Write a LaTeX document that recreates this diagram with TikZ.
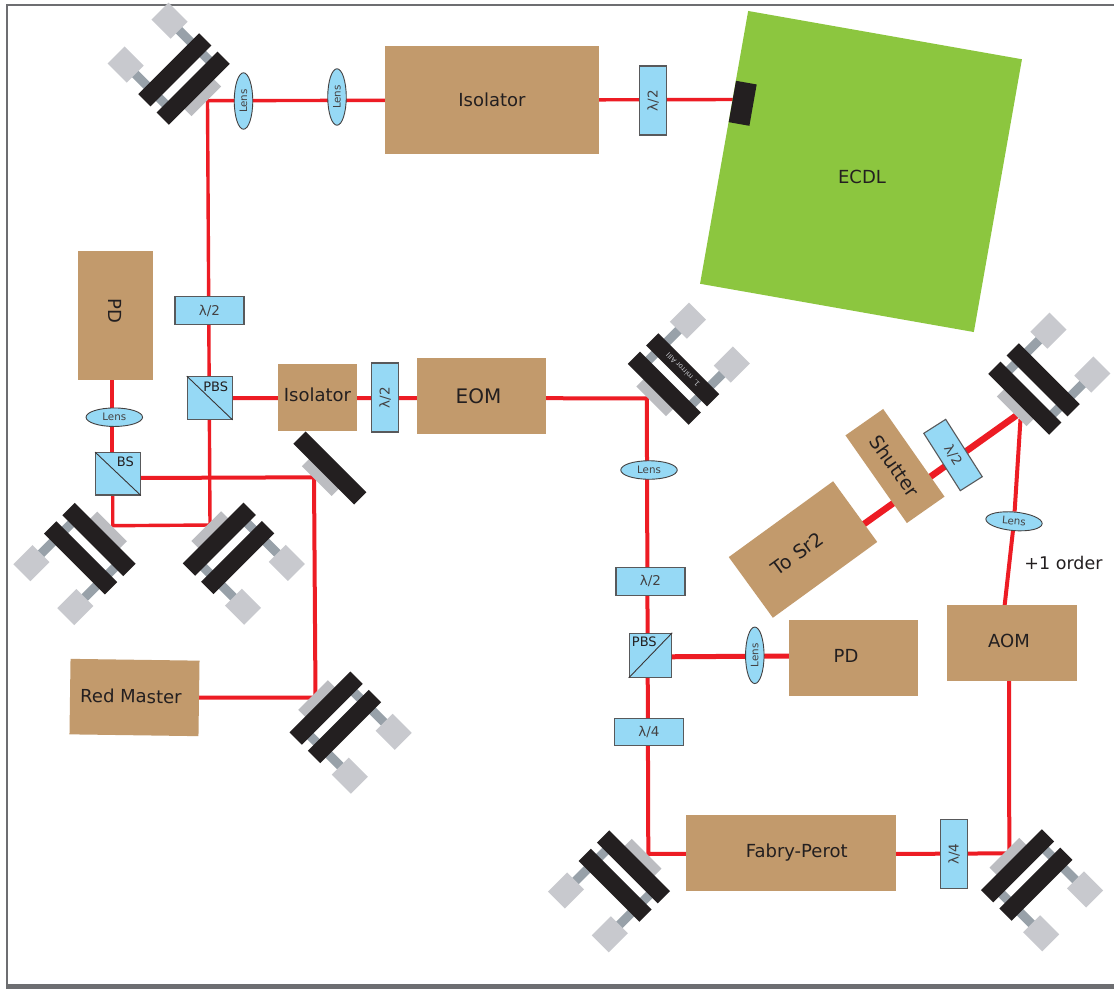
\documentclass[tikz,border=0pt]{standalone}
\usepackage{fontspec}
\setmainfont{DejaVu Sans}
\usetikzlibrary{shapes.geometric,backgrounds}
\definecolor{tanc}{HTML}{C29A6C}
\definecolor{bluec}{HTML}{96D9F5}
\definecolor{greenc}{HTML}{8CC63F}
\definecolor{redc}{HTML}{ED1C24}
\definecolor{blackc}{HTML}{231F20}
\definecolor{rodc}{HTML}{98A1A9}
\definecolor{knobc}{HTML}{C8C9CE}
\definecolor{optc}{HTML}{BCBDC1}
\definecolor{edgec}{HTML}{58595B}
\definecolor{framec}{HTML}{6D6E71}
\newcommand\fs[1]{\fontsize{#1}{#1}\selectfont}
\newcommand\off[3]{\raisebox{#2}{\hspace*{#1}\hspace*{#1}#3}}
\tikzset{
  tanbox/.style={fill=tanc,inner sep=0pt,text=blackc,font=\fs{18}},
  plainblock/.style={inner sep=0pt,text=blackc},
  wave/.style={fill=bluec,draw=edgec,line width=1.1pt,inner sep=0pt,text=blackc!85,font=\fs{13.5},minimum width=69pt,minimum height=27.5pt},
  cube/.style={rectangle,fill=bluec,draw=edgec,line width=1.1pt,inner sep=0pt,minimum width=#1},
  cubediag/.style={draw=blackc!90,line width=0.9pt},
  cubetext/.style={inner sep=0pt,text=blackc,font=\fs{13}},
  lens/.style={ellipse,fill=bluec,draw=blackc!85,line width=0.9pt,inner sep=0pt,text=blackc!85,font=\fs{10.3},minimum width=56.5pt,minimum height=18.5pt},
  beam/.style={draw=redc,line width=4pt,line join=miter},
  midbeam/.style={draw=redc,line width=5pt},
  thinbeam/.style={draw=redc,line width=3.4pt,line join=miter},
  thickbeam/.style={draw=redc,line width=6.5pt,line cap=butt},
  plainmirror/.pic={
    \fill[optc] (-21,-31.5) rectangle (21,-13);
    \fill[blackc] (-43,-21.7) rectangle (43,-4.3);
  },
  mirrorpic/.pic={
    \fill[rodc] (-35.5,-15) rectangle (-26.5,42);
    \fill[rodc] (26.5,-15) rectangle (35.5,42);
    \fill[knobc] (-43,38) rectangle (-19,65);
    \fill[knobc] (19,38) rectangle (43,65);
    \fill[optc] (-21,-31.5) rectangle (21,-13);
    \fill[blackc] (-43,-21.7) rectangle (43,-4.3);
    \fill[blackc] (-43,4.3) rectangle (43,21.7);
  },
}
\begin{document}
\begin{tikzpicture}[x=1pt,y=1pt]
\useasboundingbox (0,0) rectangle (1114,-989);
% frame
\draw[framec,line width=2pt] (1114,-5) -- (7,-5) -- (7,-986);
\fill[framec] (6,-984) rectangle (1114,-989);

% ECDL
\node[fill=greenc,inner sep=0pt,minimum width=278pt,minimum height=277pt,rotate=-10] (ecdl) at (861,-171.5) {};
\node[plainblock,font=\fs{18}] (ecdltext) at (862,-177) {ECDL};
\node[fill=blackc,inner sep=0pt,minimum width=21pt,minimum height=42pt,rotate=-10] (port) at (742.7,-103.3) {};

% tan boxes
\node[tanbox,minimum width=214pt,minimum height=108pt] (isoa) at (492,-100) {Isolator};
\node[tanbox,minimum width=79pt,minimum height=67pt] (isob) at (317.5,-397.5) {\off{0pt}{5pt}{Isolator}};
\node[tanbox,minimum width=129pt,minimum height=76pt,font=\fs{20}] (eom) at (481.5,-396) {\off{-3pt}{0pt}{EOM}};
\node[tanbox,minimum width=129pt,minimum height=75pt,rotate=-90] (pda) at (115.5,-315.5) {\off{-4.5pt}{-3pt}{PD}};
\node[tanbox,minimum width=129pt,minimum height=75.5pt,rotate=-0.8] (redm) at (134.5,-697.5) {\off{-3.5pt}{3pt}{Red Master}};
\node[tanbox,minimum width=210pt,minimum height=76pt] (fp) at (791,-853) {\off{5.7pt}{1.5pt}{Fabry-Perot}};
\node[tanbox,minimum width=129pt,minimum height=76pt] (pdb) at (853.5,-658) {\off{-7.5pt}{3.5pt}{PD}};
\node[tanbox,minimum width=130pt,minimum height=76pt] (aom) at (1012,-643) {\off{-3pt}{4pt}{AOM}};
\node[tanbox,minimum width=129pt,minimum height=75pt,rotate=36,font=\fs{19}] (sr) at (803,-549.5) {\off{-7pt}{-2pt}{To Sr2}};
\node[tanbox,minimum width=107pt,minimum height=46pt,rotate=-55,font=\fs{19}] (shut) at (895,-466) {Shutter};

% wave plates
\node[wave,rotate=90] (wa) at (653,-100.5) {λ/2};
\node[wave] (wb) at (209.5,-310.5) {λ/2};
\node[wave,rotate=90] (wc) at (385,-397.5) {λ/2};
\node[wave] (wd) at (650.5,-581.5) {\off{0pt}{1.5pt}{λ/2}};
\node[wave] (we) at (649,-732) {\off{0pt}{1.5pt}{λ/4}};
\node[wave,rotate=90] (wf) at (954,-854) {λ/4};
\node[wave,minimum width=68pt,minimum height=26pt,rotate=-57.5] (wg) at (953,-455) {λ/2};

% cubes
\node[cube=44.7pt,minimum height=42.7pt] (pbsa) at (209.7,-398) {};
\draw[cubediag] (pbsa.north west) -- (pbsa.south east);
\node[cubetext] (pbsat) at (215.7,-386.7) {PBS};
\node[cube=44.7pt,minimum height=42.3pt] (bs) at (118,-473.8) {};
\draw[cubediag] (bs.north west) -- (bs.south east);
\node[cubetext] (bst) at (125.3,-462) {BS};
\node[cube=42.4pt,minimum height=44pt] (pbsb) at (650.5,-655.3) {};
\draw[cubediag] (pbsb.south west) -- (pbsb.north east);
\node[cubetext] (pbsbt) at (644.3,-641.7) {PBS};

% lenses
\node[lens,rotate=90] (la) at (243.5,-101) {Lens};
\node[lens,rotate=90] (lb) at (337,-97) {Lens};
\node[lens] (lc) at (114.3,-417.2) {Lens};
\node[lens] (ld) at (649,-470) {Lens};
\node[lens,rotate=90] (le) at (754.8,-655.3) {Lens};
\node[lens,rotate=-5] (lf) at (1014,-521.3) {Lens};

% mirrors
\pic (m1) [rotate=45] at (184,-79) {mirrorpic};
\pic (m2) [rotate=-45] at (673.5,-379) {mirrorpic};
\node[inner sep=0pt,rotate=135,text=knobc,font=\fs{7}] (m2text) at (683,-370) {1. mirror AIII};
\pic (m3) [rotate=-45] at (1034,-389) {mirrorpic};
\pic (m4) [rotate=135] at (89.8,-548.7) {mirrorpic};
\pic (m5) [rotate=-135] at (228.5,-548.4) {mirrorpic};
\pic (m6) [rotate=-45] at (339,-458.8) {plainmirror};
\pic (m7) [rotate=-135] at (335.3,-717.3) {mirrorpic};
\pic (m8) [rotate=135] at (624.3,-876) {mirrorpic};
\pic (m9) [rotate=-135] at (1026.7,-875) {mirrorpic};

% +1 order
\node[inner sep=0pt,text=blackc,font=\fs{17.5}] (order) at (1063.5,-563) {+1 order};

% beam corners and free ends
\coordinate (portout) at (735,-99.5);
\coordinate (ca) at (207.5,-100.7);
\coordinate (cb) at (210,-525);
\coordinate (cc) at (112.7,-525.7);
\coordinate (bsbot) at (112.7,-490);
\coordinate (bstop) at (112,-460);
\coordinate (pdaout) at (112,-375);
\coordinate (bsout) at (135,-478);
\coordinate (cd) at (314,-477.3);
\coordinate (ce) at (315.5,-697.5);
\coordinate (ch) at (646.8,-398.3);
\coordinate (pbsao) at (225,-398);
\coordinate (ci) at (648.3,-854);
\coordinate (cj) at (1009.3,-853.3);
\coordinate (aomb) at (1009,-675);
\coordinate (aomt) at (1004,-611);
\coordinate (mv) at (1020.5,-419);
\coordinate (mvb) at (1017,-415);
\coordinate (srin) at (850,-534);
\coordinate (pbsbr) at (665,-656.8);
\coordinate (pdbl) at (795,-656);
\coordinate (fpout) at (890,-854);

\begin{scope}[on background layer]
  \fill[white] (0,0) rectangle (1114,-989);
  \draw[thinbeam] (portout) -- (ca) -- (cb) -- (cc) -- (bsbot);
  \draw[beam] (bstop) -- (pdaout);
  \draw[beam] (bsout) -- (cd) -- (ce) -- (redm);
  \draw[beam] (pbsao) -- (ch) -- (ci) -- (fp);
  \draw[midbeam] (pbsbr) -- (pdbl);
  \draw[beam] (fpout) -- (cj) -- (aomb);
  \draw[beam] (aomt) -- (lf) -- (mv);
  \draw[thickbeam] (mvb) -- (srin);
\end{scope}
\end{tikzpicture}
\end{document}
